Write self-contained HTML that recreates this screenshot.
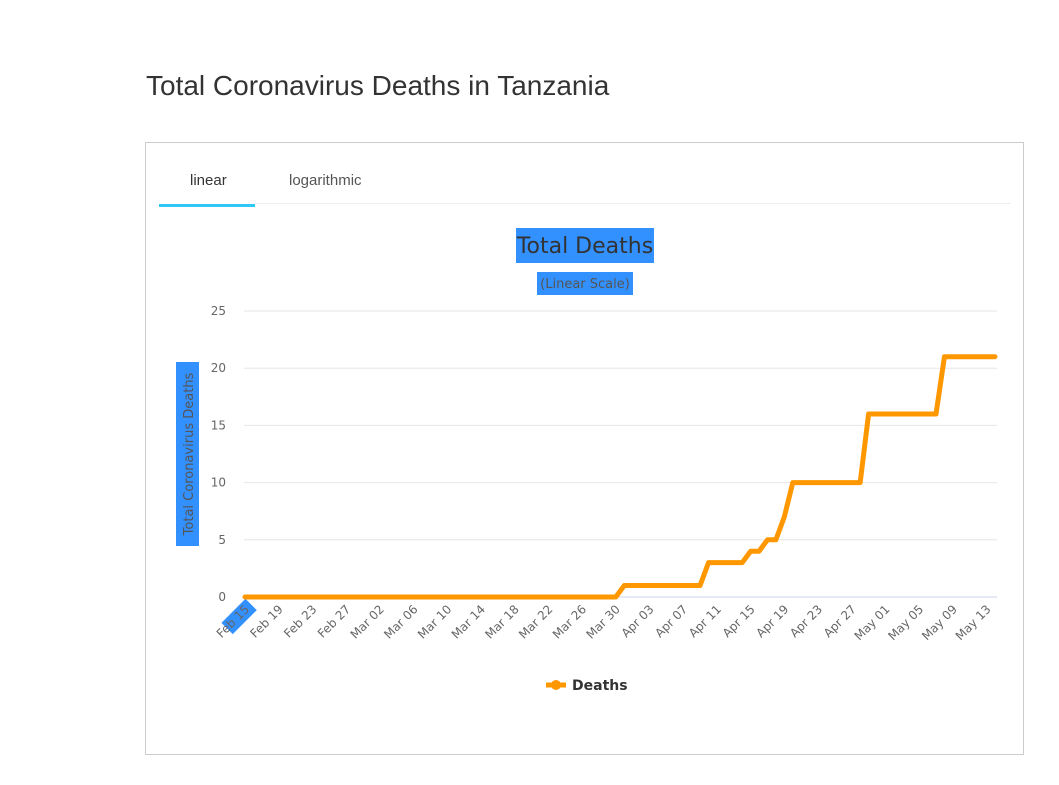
<!DOCTYPE html>
<html><head><meta charset="utf-8"><style>
body{margin:0;width:1059px;height:785px;background:#fff;font-family:"Liberation Sans",sans-serif;position:relative;overflow:hidden}
h1{position:absolute;left:146px;top:70px;margin:0;font-weight:normal;font-size:28px;color:#333}
.box{position:absolute;left:145px;top:142px;width:877px;height:611px;border:1px solid #ccc}
.tab{position:absolute;top:172px;font-size:15px;color:#555}
svg{position:absolute;left:0;top:0}
</style></head><body>
<h1>Total Coronavirus Deaths in Tanzania</h1>
<div class="box"></div>
<div class="tab" style="left:190px;color:#333">linear</div>
<div class="tab" style="left:289px">logarithmic</div>
<div style="position:absolute;left:159px;top:204px;width:96px;height:3px;background:#2ec7f7"></div>
<div style="position:absolute;left:255px;top:203px;width:756px;height:1px;background:#eee"></div>
<svg id="chart" width="1059" height="785"></svg>
<script>
const categories=[];
(function(){const m=["Jan","Feb","Mar","Apr","May"];let d=new Date(2020,1,15);for(let i=0;i<90;i++){categories.push(m[d.getMonth()]+" "+String(d.getDate()).padStart(2,"0"));d.setDate(d.getDate()+1);}})();
const deaths=[
0,0,0,0,0,0,0,0,0,0,0,0,0,0,0,
0,0,0,0,0,0,0,0,0,0,0,0,0,0,0,
0,0,0,0,0,0,0,0,0,0,0,0,0,0,0,
1,1,1,1,1,1,1,1,1,1,3,3,3,3,3,4,4,5,5,7,10,10,10,10,10,10,10,10,10,16,16,16,16,16,16,16,16,16,21,21,21,21,21,21,21];
const yTicks=[0,5,10,15,20,25];
const X0=245,X1=995,Y0=597,Y25=311;
const x=i=>X0+i*(X1-X0)/(categories.length-1);
const y=v=>Y0-v*(Y0-Y25)/25;
const svg=document.getElementById('chart');const NS="http://www.w3.org/2000/svg";
function mk(t,a,txt){const e=document.createElementNS(NS,t);for(const k in a)e.setAttribute(k,a[k]);if(txt!=null)e.textContent=txt;svg.appendChild(e);return e;}
const F='"DejaVu Sans",sans-serif';
let e;
e=mk('rect',{x:516,y:228,width:138,height:35,fill:'#3390ff'});


e=mk('text',{x:585,y:253,'text-anchor':'middle','font-size':22,fill:'#333','font-family':F},'Total Deaths');


e=mk('rect',{x:537,y:272,width:96,height:23,fill:'#3390ff'});


e=mk('text',{x:585,y:288,'text-anchor':'middle','font-size':13,fill:'#555','font-family':F},'(Linear Scale)');


e=mk('rect',{x:176,y:362,width:23,height:184,fill:'#3390ff'});


e=mk('text',{x:0,y:0,transform:'translate(193,454) rotate(-90)','text-anchor':'middle','font-size':13,fill:'#555','font-family':F},'Total Coronavirus Deaths');


yTicks.forEach(v=>{
 e=mk('line',{x1:244,x2:997,y1:y(v),y2:y(v),stroke:v===0?'#ccd6eb':'#e6e6e6','stroke-width':1});
 
 
 e=mk('text',{x:226,y:y(v)+4,'text-anchor':'end','font-size':12,fill:'#666','font-family':F},String(v));
 
 
});
e=mk('rect',{x:-30,y:-9,width:34,height:16,fill:'#3390ff',transform:'translate(249,608) rotate(-45)'});


for(let i=0;i<categories.length;i+=4){
 e=mk('text',{x:0,y:0,transform:`translate(${x(i)+5},${610}) rotate(-45)`,'text-anchor':'end','font-size':12,fill:'#666','font-family':F},categories[i]);
 
 
}
e=mk('polyline',{points:deaths.map((v,i)=>x(i)+','+y(v)).join(' '),fill:'none',stroke:'#ff9800','stroke-width':5,'stroke-linejoin':'round','stroke-linecap':'round'});


e=mk('line',{x1:546,x2:566,y1:685,y2:685,stroke:'#ff9800','stroke-width':5});


e=mk('circle',{cx:556,cy:685,r:5,fill:'#ff9800'});


e=mk('text',{x:572,y:690,'font-size':14,'font-weight':'bold',fill:'#333','font-family':F},'Deaths');


</script>
</body></html>
